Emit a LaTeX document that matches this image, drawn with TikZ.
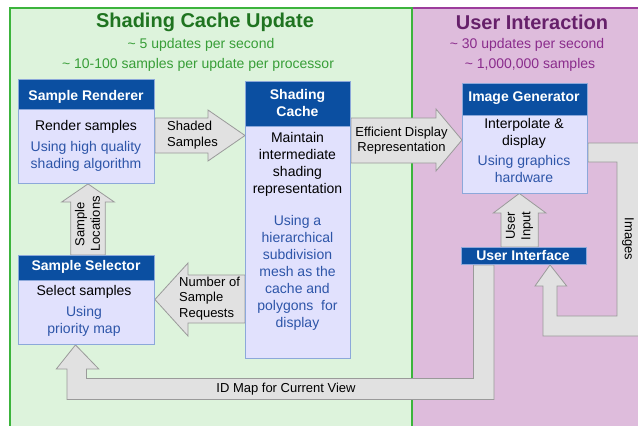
\documentclass[tikz,border=0pt]{standalone}
\usepackage{fontspec}
\setmainfont{Liberation Sans}

\definecolor{greenfill}{HTML}{DDF3DC}
\definecolor{greenline}{HTML}{3CB43C}
\definecolor{greentitle}{HTML}{1F7420}
\definecolor{greensub}{HTML}{389E38}
\definecolor{purplefill}{HTML}{DEBCDC}
\definecolor{purpleline}{HTML}{9C3C9C}
\definecolor{purpletitle}{HTML}{66206A}
\definecolor{purplesub}{HTML}{8A2C8C}
\definecolor{hdrblue}{HTML}{0B4FA1}
\definecolor{boxline}{HTML}{8CA8DA}
\definecolor{bodyfill}{HTML}{E1E1FD}
\definecolor{usingblue}{HTML}{2D55A8}
\definecolor{arrowfill}{HTML}{E1E1E1}
\definecolor{arrowline}{HTML}{9A9A9A}

\pgfdeclarelayer{panellayer}
\pgfdeclarelayer{arrowlayer}
\pgfsetlayers{panellayer,arrowlayer,main}

\tikzset{
  panelgreen/.style={fill=greenfill, draw=greenline, line width=1.1pt},
  panelpurple/.style={fill=purplefill, draw=purpleline, line width=1.1pt},
  title/.style={font=\fontsize{20}{24}\selectfont\bfseries, inner sep=0pt},
  subtitle/.style={font=\fontsize{14}{17}\selectfont, inner sep=0pt},
  hdrbox/.style={fill=hdrblue, draw=boxline, line width=0.9pt, inner sep=0pt, anchor=north west},
  bodybox/.style={fill=bodyfill, draw=boxline, line width=0.9pt, inner sep=0pt, anchor=north west},
  hdrtext/.style={text=white, font=\fontsize{14}{16.5}\selectfont\bfseries, align=center, inner sep=0pt},
  plaintext/.style={text=black, font=\fontsize{14}{17}\selectfont, align=center, inner sep=0pt},
  usingtext/.style={text=usingblue, font=\fontsize{14}{17}\selectfont, align=center, inner sep=0pt},
  blockarrow/.style={fill=arrowfill, draw=arrowline, line width=0.8pt, line join=miter},
  arrowlabel/.style={text=black, font=\fontsize{13}{15.5}\selectfont, inner sep=0pt}
}

\begin{document}
\begin{tikzpicture}[x=1pt, y=-1pt]
\useasboundingbox (0,0) rectangle (638,426);
\clip (0,0) rectangle (638,426);

% the two stage panels
\begin{pgfonlayer}{panellayer}
\fill[white] (0,0) rectangle (638,426);
\draw[panelpurple] (412,8) rectangle (660,440);
\draw[panelgreen] (10,8) rectangle (412,440);
\end{pgfonlayer}

% panel titles and rates
\node[title, text=greentitle] (ttlA) at (205,22) {Shading Cache Update};
\node[subtitle, text=greensub] (subA1) at (201,45) {\textasciitilde{} 5 updates per second};
\node[subtitle, text=greensub] (subA2) at (198,65) {\textasciitilde{} 10-100 samples per update per processor};
\node[title, text=purpletitle] (ttlB) at (532,22) {User Interaction};
\node[subtitle, text=purplesub] (subB1) at (527,45) {\textasciitilde{} 30 updates per second};
\node[subtitle, text=purplesub] (subB2) at (530,65) {\textasciitilde{} 1,000,000 samples};

% component boxes: header + body
\node[hdrbox, minimum width=136pt, minimum height=30pt] (srH) at (18,79) {};
\node[bodybox, minimum width=136pt, minimum height=74pt] (srB) at (18,109) {};
\node[hdrbox, minimum width=105pt, minimum height=45pt] (scH) at (245,81) {};
\node[bodybox, minimum width=105pt, minimum height=232pt] (scB) at (245,126) {};
\node[hdrbox, minimum width=136pt, minimum height=25pt] (ssH) at (18,255) {};
\node[bodybox, minimum width=136pt, minimum height=64pt] (ssB) at (18,280) {};
\node[hdrbox, minimum width=125pt, minimum height=31.5pt] (igH) at (462,83) {};
\node[bodybox, minimum width=125pt, minimum height=78pt] (igB) at (462,114.5) {};
\node[hdrbox, minimum width=124.5pt, minimum height=17pt] (ui) at (461,247) {};

% block arrows between components, kept underneath the boxes
\begin{pgfonlayer}{arrowlayer}
% Shaded Samples
\draw[blockarrow] (srB.east |- 0,118) -- (208,118) -- (208,110)
  -- (scB.west |- 0,135.5) -- (208,161) -- (208,153) -- (srB.east |- 0,153) -- cycle;
% Efficient Display Representation
\draw[blockarrow] (scB.east |- 0,118) -- (436,118) -- (436,109)
  -- (igB.west |- 0,140) -- (436,171) -- (436,163) -- (scB.east |- 0,163) -- cycle;
% Sample Locations
\draw[blockarrow] (70.7,0 |- ssH.north) -- (70.7,202) -- (61.7,202)
  -- (88,0 |- srB.south) -- (114.3,202) -- (105.3,202) -- (105.3,0 |- ssH.north) -- cycle;
% Number of Sample Requests
\draw[blockarrow] (scB.west |- 0,275) -- (188,275) -- (188,263)
  -- (ssB.east |- 0,299.5) -- (188,336) -- (188,323) -- (scB.west |- 0,323) -- cycle;
% User Input
\draw[blockarrow] (501,0 |- ui.north) -- (501,213) -- (493.3,213)
  -- (519.3,0 |- igB.south) -- (546,213) -- (538.3,213) -- (538.3,0 |- ui.north) -- cycle;
% Images
\draw[blockarrow] (igB.east |- 0,143) -- (645,143) -- (645,336) -- (543,336) -- (543,286)
  -- (535,286) -- (550,0 |- ui.south) -- (566.7,286) -- (557,286) -- (557,316)
  -- (617,316) -- (617,162) -- (igB.east |- 0,162) -- cycle;
% ID Map for Current View
\draw[blockarrow] (473.5,0 |- ui.south) -- (494,0 |- ui.south) -- (494,399.5) -- (67,399.5)
  -- (67,369) -- (56.3,369) -- (75.5,0 |- ssB.south) -- (98.8,369) -- (86.5,369)
  -- (86.5,378.5) -- (473.5,378.5) -- cycle;
\end{pgfonlayer}

% header texts
\node[hdrtext] (srT) at (86,96.5) {Sample Renderer};
\node[hdrtext] (scT) at (297.5,103) {Shading\\Cache};
\node[hdrtext] (ssT) at (86,266.7) {Sample Selector};
\node[hdrtext] (igT) at (524,98.3) {Image Generator};
\node[hdrtext] (uiT) at (523,255.5) {User Interface};

% body texts
\node[plaintext] (srP) at (86,127) {Render samples};
\node[usingtext] (srU) at (86,156.5) {Using high quality\\shading algorithm};
\node[plaintext] (scP) at (297.5,164.5) {Maintain\\intermediate\\shading\\representation};
\node[usingtext] (scU) at (297.5,273) {Using a\\hierarchical\\subdivision\\mesh as the\\cache and\\polygons\ \ for\\display};
\node[plaintext] (ssP) at (84,291.7) {Select samples};
\node[usingtext] (ssU) at (84,321.3) {Using\\priority map};
\node[plaintext] (igP) at (524,133.3) {Interpolate \&\\display};
\node[usingtext] (igU) at (524,169) {Using graphics\\hardware};

% arrow labels
\node[arrowlabel, align=left, anchor=west] (lbShaded) at (167,135.3) {Shaded\\Samples};
\node[arrowlabel, align=center] (lbEff) at (401.5,140.5) {Efficient Display\\Representation};
\node[arrowlabel, align=center, rotate=90] (lbLoc) at (87.5,224) {Sample\\Locations};
\node[arrowlabel, align=left, anchor=west] (lbReq) at (179,298.5) {Number of\\Sample\\Requests};
\node[arrowlabel, align=center, rotate=90] (lbUser) at (519.5,226) {User\\Input};
\node[arrowlabel, rotate=-90] (lbImg) at (628,239) {Images};
\node[arrowlabel] (lbId) at (286,389) {ID Map for Current View};
\end{tikzpicture}
\end{document}
